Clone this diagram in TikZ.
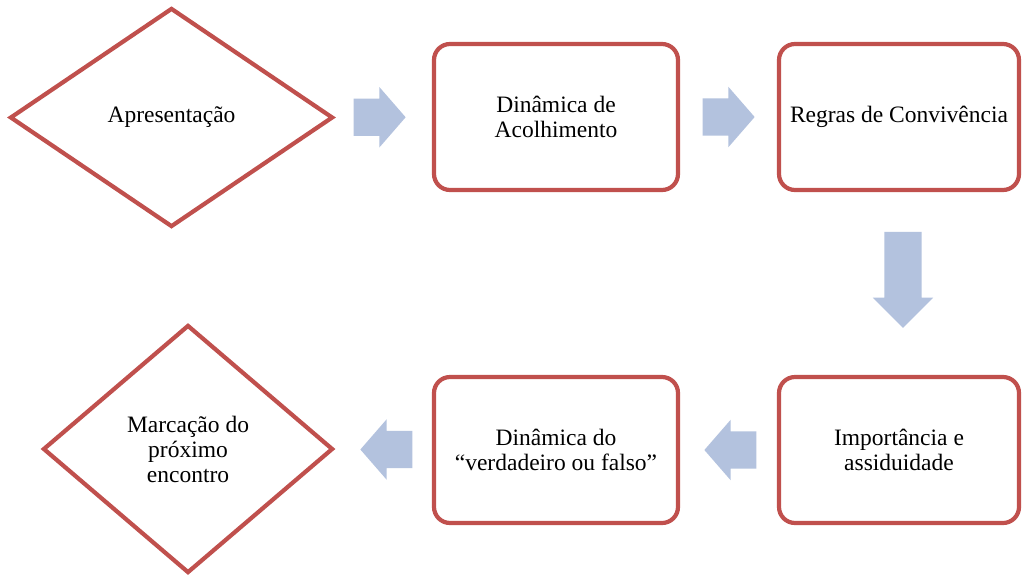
\documentclass[tikz,border=0pt]{standalone}
\usepackage{fontspec}
\setmainfont{Liberation Serif}
\usetikzlibrary{calc,positioning,shapes.geometric,shapes.arrows}
\definecolor{boxred}{HTML}{C0504D}
\definecolor{flowblue}{HTML}{B3C2DE}

\begin{document}
\begin{tikzpicture}[x=1pt,y=-1pt,
  font=\fontsize{23.5pt}{25pt}\selectfont,
  stage/.style={draw=boxred,line width=4.2pt,align=center},
  choice/.style={stage,diamond,aspect=1,inner sep=0pt},
  card/.style={stage,rectangle,rounded corners=16pt,minimum width=244pt,minimum height=146pt},
  flow/.style={single arrow,fill=flowblue,draw=none,inner xsep=0pt,inner ysep=18.5pt,
    single arrow head extend=11.5pt,single arrow tip angle=98,minimum height=52pt}]
  \useasboundingbox (0,0) rectangle (1022,574);
  \fill[white] (0,0) rectangle (1022,574);
  % stages of the meeting
  \node[choice,minimum width=323pt,minimum height=219pt] (apres) at (171.5,117.5) {Apresentação};
  \node[card] (acolh) at (556,117) {Dinâmica de\\Acolhimento};
  \node[card,minimum width=240pt] (regras) at (899,117) {Regras de Convivência};
  \node[card,minimum width=240pt] (import) at (899,450) {Importância e\\assiduidade};
  \node[card] (vouf) at (556,450) {Dinâmica do\\“verdadeiro ou falso”};
  \node[choice,minimum width=290pt,minimum height=248pt] (marca) at (188,449) {Marcação do\\próximo\\encontro};
  % block arrows
  \node[flow] (f1) at ($(apres.east)!0.5!(acolh.west)+(-12,0)$) {};
  \node[flow] (f2) at ($(acolh.east)!0.5!(regras.west)+(-8,0)$) {};
  \node[flow,rotate=-90,minimum height=96pt,single arrow tip angle=90] (f3)
    at ($(regras.south)!0.5!(import.north)+(4,-13)$) {};
  \node[flow,rotate=180] (f4) at ($(import.west)!0.5!(vouf.east)+(10,0)$) {};
  \node[flow,rotate=180] (f5) at ($(vouf.west)!0.5!(marca.east)+(11,0)$) {};
\end{tikzpicture}
\end{document}
